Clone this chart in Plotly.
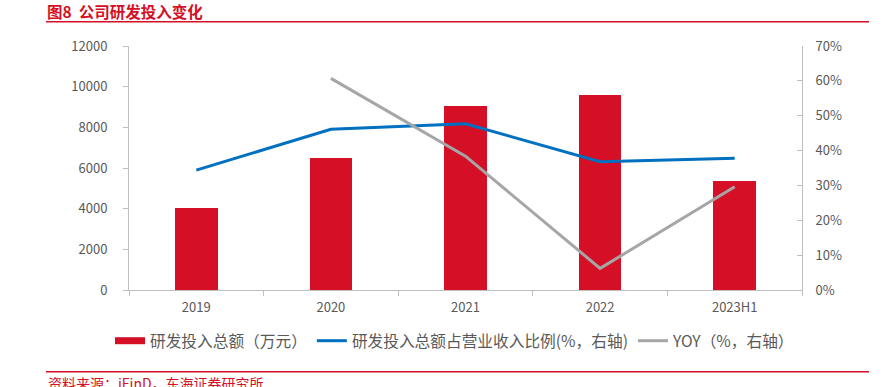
import plotly.graph_objects as go

categories = ["2019", "2020", "2021", "2022", "2023H1"]
rd_total = [4054, 6512, 9033, 9577, 5375]            # 万元
rd_ratio = [34.4, 46.1, 47.7, 36.8, 37.8]            # %
rd_yoy = [None, 60.7, 38.4, 6.2, 29.6]               # %

RED = "#D50F25"
BLUE = "#0070C0"
GRAY = "#A6A6A6"
FONT = "Noto Sans CJK SC"
TXT = "#595959"

W, H = 887, 387
L, R, T, B = 129, 85, 46, 97
pw, ph = W - L - R, H - T - B

def px_x(p):
    return (p - L) / pw

def px_y(p):
    return (H - B - p) / ph

fig = go.Figure()
fig.add_trace(go.Bar(
    x=categories, y=rd_total, name="研发投入总额（万元）",
    marker=dict(color=RED, line=dict(width=0)), width=0.317,
    showlegend=False, legendgroup="bar",
))
# legend entry for the bars (wide red swatch like the reference)
fig.add_trace(go.Scatter(
    x=[None], y=[None], name="研发投入总额（万元）", mode="lines",
    line=dict(color=RED, width=7), legendgroup="bar", showlegend=True,
))
fig.add_trace(go.Scatter(
    x=categories, y=rd_ratio, name="研发投入总额占营业收入比例(%，右轴)",
    yaxis="y2", mode="lines", line=dict(color=BLUE, width=3),
))
fig.add_trace(go.Scatter(
    x=categories, y=rd_yoy, name="YOY（%，右轴）",
    yaxis="y2", mode="lines", line=dict(color=GRAY, width=3),
))

fig.update_layout(
    width=W, height=H,
    margin=dict(l=L, r=R, t=T, b=B),
    paper_bgcolor="white", plot_bgcolor="white",
    font=dict(family=FONT, size=13, color=TXT),
    showlegend=True,
    legend=dict(orientation="h", x=px_x(110), y=px_y(341), xanchor="left", yanchor="middle",
                font=dict(size=15.7, color=TXT), itemwidth=30, tracegroupgap=0,
                bgcolor="rgba(0,0,0,0)", groupclick="togglegroup"),
    xaxis=dict(
        showline=True, linecolor="#BFBFBF", linewidth=1,
        ticks="outside", ticklen=5, tickcolor="#BFBFBF", tickson="boundaries",
        showgrid=False, tickfont=dict(size=13, color=TXT), ticklabelstandoff=5,
    ),
    yaxis=dict(
        range=[0, 12000], dtick=2000, tickformat="d",
        showline=True, linecolor="#BFBFBF", linewidth=1,
        ticks="outside", ticklen=5, tickcolor="#BFBFBF",
        showgrid=False, zeroline=False, tickfont=dict(size=13, color=TXT),
        ticklabelstandoff=13,
    ),
    yaxis2=dict(
        range=[0, 70], dtick=10, ticksuffix="%", overlaying="y", side="right",
        showline=True, linecolor="#BFBFBF", linewidth=1,
        ticks="inside", ticklen=5, tickcolor="#BFBFBF",
        showgrid=False, zeroline=False, tickfont=dict(size=13, color=TXT),
        ticklabelstandoff=10,
    ),
    bargap=0,
)

fig.add_annotation(
    text="<b>图8  公司研发投入变化</b>", xref="paper", yref="paper",
    x=px_x(46), y=px_y(11), xanchor="left", yanchor="middle", showarrow=False,
    font=dict(family=FONT, size=15.5, color=RED), borderpad=0,
)
fig.add_annotation(
    text="资料来源：iFinD，东海证券研究所", xref="paper", yref="paper",
    x=px_x(46), y=px_y(383), xanchor="left", yanchor="middle", showarrow=False,
    font=dict(family=FONT, size=14, color=RED),
)
fig.add_shape(type="line", xref="paper", yref="paper",
              x0=px_x(46), x1=px_x(869), y0=px_y(21.7), y1=px_y(21.7),
              line=dict(color=RED, width=1.5))
fig.add_shape(type="line", xref="paper", yref="paper",
              x0=px_x(46), x1=px_x(869), y0=px_y(371.7), y1=px_y(371.7),
              line=dict(color=RED, width=1.5))

fig.write_html(
    "out.html",
    config={"displayModeBar": False},
    post_script="document.body.style.margin='0px';document.body.style.overflow='hidden';",
)
